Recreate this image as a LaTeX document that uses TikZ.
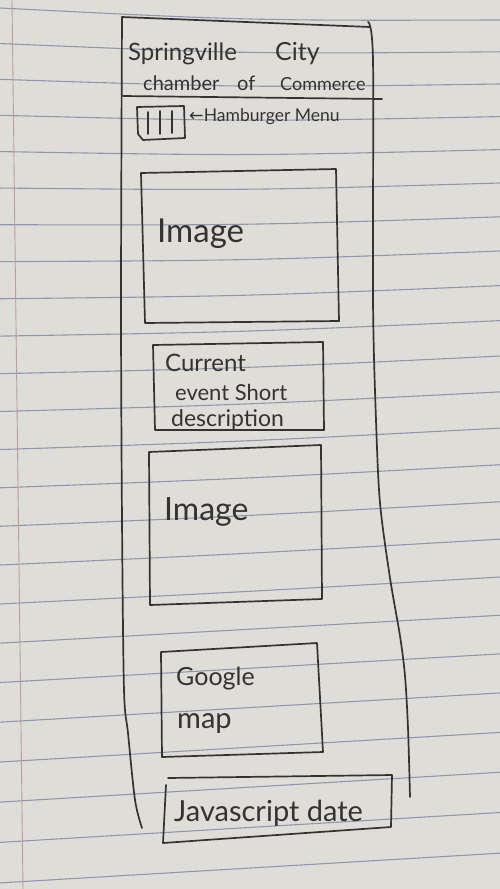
\documentclass[tikz,border=0pt]{standalone}
\usepackage{fontspec}
\setmainfont{Lato}
\newfontfamily\arrowfont{DejaVu Sans}
\definecolor{paper}{RGB}{222,221,216}
\definecolor{rulecol}{RGB}{146,150,172}
\definecolor{margincol}{RGB}{186,158,156}
\definecolor{ink}{RGB}{52,51,50}
\newcommand{\pensize}[1]{\fontsize{#1}{#1}\selectfont}
\begin{document}
\begin{tikzpicture}[x=1pt,y=-1pt,
  pen/.style={draw=ink, line width=1.7pt, line cap=round, line join=round},
  hand/.style={text=ink, inner sep=0pt, anchor=base west},
]
% sheet of ruled paper
\fill[paper] (0,0) rectangle (500,889);
\useasboundingbox (0,0) rectangle (500,889);
\foreach \k in {0,...,24}{
  \pgfmathsetmacro\yl{8+35.44*\k+0.113*\k*\k}
  \pgfmathsetmacro\yr{20+31.59*\k+0.2015*\k*\k}
  \pgfmathsetmacro\bulge{max(0,5*(1-\k/19))}
  \pgfmathsetmacro\yc{(\yl+\yr)/2+1.33*\bulge}
  \draw[rulecol, line width=1.1pt] (0,\yl) .. controls (250,\yc) .. (500,\yr);
}
\draw[margincol, line width=0.9pt] (12,0) -- (23,889);

% phone outline
\coordinate (ftl) at (122,17);
\coordinate (ftr) at (370,27);
\draw[pen] (ftl) -- (ftr);
\draw[pen] plot[smooth] coordinates {(ftl) (121,300) (122,520) (124,690) (128,733) (135,800) (142,828)};
\draw[pen] plot[smooth] coordinates {(368,22) (373,60) (373,300) (376,420) (380,503) (390,578) (400,636) (405,676) (408,728) (410,797)};
\coordinate (sepl) at (123,96);
\coordinate (sepr) at (382,99);
\draw[pen] (sepl) -- (sepr);

% header text
\node[hand, font=\pensize{24}] (spr) at (128,60) {Springville};
\node[hand, font=\pensize{25}] (city) at (275,60) {City};
\node[hand, font=\pensize{20}] (cham) at (143,90) {chamber};
\node[hand, font=\pensize{20}] (of) at (237,90) {of};
\node[hand, font=\pensize{18}] (comm) at (280,90) {Commerce};

% hamburger menu icon and note
\draw[pen] (137,107) -- (184,106) -- (185,138) -- (143,140) -- (138,134) -- cycle;
\draw[pen] (148,112) -- (148,134);
\draw[pen] (160,111) -- (160,134);
\draw[pen] (172,111) -- (172,133);
\node[hand, font=\pensize{17.5}] (hmb) at (189,121) {{\arrowfont ←}Hamburger Menu};

% first image placeholder
\draw[pen] (141,173) -- (336,169) -- (339,321) -- (145,323) -- cycle;
\node[hand, font=\pensize{33}] (img1) at (157,242) {Image};

% current event box
\draw[pen] (153,345) -- (323,342) -- (324,430) -- (155,430) -- cycle;
\node[hand, font=\pensize{24}] (ev1) at (165,371) {Current};
\node[hand, font=\pensize{22}] (ev2) at (175,400) {event Short};
\node[hand, font=\pensize{23}] (ev3) at (171,426) {description};

% second image placeholder
\draw[pen] (149,452) -- (321,445) -- (322,599) -- (150,605) -- cycle;
\node[hand, font=\pensize{32}] (img2) at (164,520) {Image};

% map box
\draw[pen] (161,652) -- (317,643) -- (323,752) -- (162,757) -- cycle;
\node[hand, font=\pensize{25}] (gg) at (176,685) {Google};
\node[hand, font=\pensize{29}] (mp) at (177,728) {map};

% date box
\draw[pen] (166,785) -- (163,843) -- (391,827) -- (392,775) -- (168,778);
\node[hand, font=\pensize{29}] (js) at (174,821) {Javascript date};
\end{tikzpicture}
\end{document}
